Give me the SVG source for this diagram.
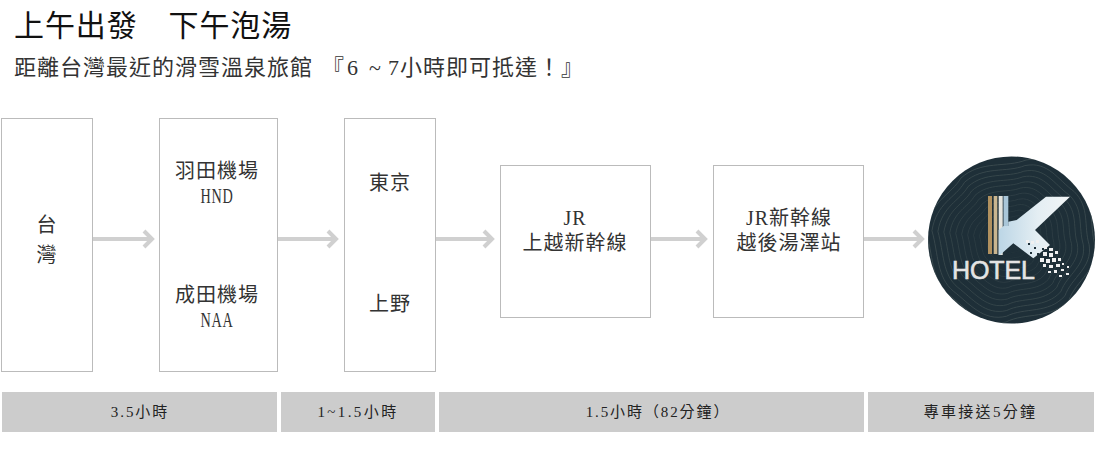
<svg xmlns="http://www.w3.org/2000/svg" width="1096" height="455" viewBox="0 0 1096 455">
<style>
text{font-family:"Liberation Serif","Noto Sans CJK TC",serif;fill:#333;font-size:20px;text-anchor:middle;letter-spacing:1px}
.box{fill:#fff;stroke:#bbb;stroke-width:1}
.bar{fill:#ccc}
.bt{font-size:15px;letter-spacing:1.9px;fill:#222}
.ln{fill:none;stroke:#d0d0d0;stroke-width:4}
.ct{fill:none;stroke:#4c5b5c;stroke-width:.6;vector-effect:non-scaling-stroke}
</style>
<defs>
<path id="w" d="M-85,-10C-80,-40-60,-45-50,-62C-30,-80-5,-72 15,-80C40,-85 50,-65 68,-52C85,-35 78,-15 84,5C88,30 65,40 58,60C40,80 15,72-5,82C-30,88-45,68-62,55C-80,40-78,15-85,-10Z"/>
<clipPath id="c"><circle cx="1011.5" cy="240" r="83.5"/></clipPath>
<linearGradient id="k" x1="0" y1="0" x2="1" y2="0"><stop offset="0" stop-color="#bcd6e6"/><stop offset=".55" stop-color="#e4eef3"/><stop offset="1" stop-color="#f2f5f6"/></linearGradient>
</defs>
<rect width="1096" height="455" fill="#fff"/>
<g id="title">
<text x="14" y="36" style="text-anchor:start;font-size:30px;letter-spacing:.9px;fill:#111">上午出發　下午泡湯</text>
<text x="14" y="75" style="text-anchor:start;font-size:22px;letter-spacing:1px">距離台灣最近的滑雪溫泉旅館<tspan x="322">『</tspan><tspan x="347">6</tspan><tspan x="369">~</tspan><tspan x="388">7小時即可抵達！』</tspan></text>
</g>
<g id="connectors">
<path class="ln" d="M93,239H151M144,231l8,8-8,8"/>
<path class="ln" d="M278,239H335M328,231l8,8-8,8"/>
<path class="ln" d="M436,239H491M484,231l8,8-8,8"/>
<path class="ln" d="M651,239H704M697,231l8,8-8,8"/>
<path class="ln" d="M864,239H921M914,231l8,8-8,8"/>
</g>
<g id="node-taiwan"><rect class="box" x="1.5" y="118.5" width="91" height="253"/><text x="47" y="232">台</text><text x="47" y="262">灣</text></g>
<g id="node-airports"><rect class="box" x="159.5" y="118.5" width="118" height="253"/><text x="217" y="178">羽田機場</text><text x="217" y="203" textLength="33" lengthAdjust="spacingAndGlyphs">HND</text><text x="217" y="302">成田機場</text><text x="217" y="327" textLength="33" lengthAdjust="spacingAndGlyphs">NAA</text></g>
<g id="node-tokyo"><rect class="box" x="344.5" y="118.5" width="91" height="253"/><text x="390" y="190">東京</text><text x="390" y="311">上野</text></g>
<g id="node-jr"><rect class="box" x="500.5" y="165.5" width="150" height="152"/><text x="575" y="225">JR</text><text x="575" y="250">上越新幹線</text></g>
<g id="node-station"><rect class="box" x="713.5" y="165.5" width="150" height="152"/><text x="789" y="225">JR新幹線</text><text x="789" y="250">越後湯澤站</text></g>
<g id="node-hotel">
<circle cx="1011.5" cy="240" r="83.5" fill="#1e2f38"/>
<g clip-path="url(#c)">
<use href="#w" class="ct" transform="translate(1011 240) scale(1)"/>
<use href="#w" class="ct" transform="translate(1011 240) scale(.93)"/>
<use href="#w" class="ct" transform="translate(1011 240) scale(.86)"/>
<use href="#w" class="ct" transform="translate(1011 240) scale(.79)"/>
<use href="#w" class="ct" transform="translate(1011 240) scale(.72)"/>
<use href="#w" class="ct" transform="translate(1011 240) scale(.65)"/>
<use href="#w" class="ct" transform="translate(1011 240) scale(.58)"/>
<use href="#w" class="ct" transform="translate(1011 240) scale(.51)"/>
<use href="#w" class="ct" transform="translate(1011 240) scale(.44)"/>
<use href="#w" class="ct" transform="translate(1011 240) scale(.37)"/>
<use href="#w" class="ct" transform="translate(1011 240) scale(.3)"/>
<use href="#w" class="ct" transform="translate(1011 240) scale(.23)"/>
<use href="#w" class="ct" transform="translate(1011 240) scale(.16)"/>
</g>
<rect x="988" y="196" width="4" height="58" fill="#b1915f"/>
<rect x="993.7" y="196" width="3.6" height="58" fill="#c9b58f"/>
<rect x="998.7" y="196" width="4" height="59" fill="#e4e4de"/>
<rect x="1003.5" y="196" width="4.8" height="30" fill="#a9c6d8"/>
<path d="M1003.5,226H1008.3V221.7L1016.7,220L1046,196.7H1070L1035,230L1050,245L1033.3,258.3L1013.3,243.3L1000,255H998.7V230Z" fill="url(#k)"/>
<g fill="#1e2f38">
<rect x="1028" y="243" width="2" height="2"/><rect x="1034" y="247" width="2" height="2"/><rect x="1030" y="252" width="2" height="2"/><rect x="1037" y="253" width="2" height="2"/><rect x="1042" y="248" width="2" height="2"/>
</g>
<g fill="#f0f0f0">
<rect x="1026" y="240" width="3" height="3"/><rect x="1031" y="241" width="3" height="3"/><rect x="1036" y="240" width="3" height="3"/>
<rect x="1044" y="246" width="3" height="3"/><rect x="1049" y="248" width="4" height="3"/><rect x="1043" y="252" width="4" height="4"/>
<rect x="1049" y="253" width="4" height="4"/><rect x="1055" y="251" width="3" height="3"/><rect x="1040" y="258" width="4" height="4"/>
<rect x="1046" y="259" width="4" height="4"/><rect x="1052" y="258" width="4" height="4"/><rect x="1058" y="258" width="3" height="3"/>
<rect x="1043" y="264" width="3" height="3"/><rect x="1049" y="265" width="4" height="3"/><rect x="1056" y="264" width="4" height="3"/>
<rect x="1062" y="263" width="2" height="2"/><rect x="1048" y="271" width="3" height="2"/><rect x="1054" y="270" width="3" height="3"/>
<rect x="1061" y="269" width="3" height="2"/><rect x="1067" y="266" width="2" height="2"/><rect x="1059" y="275" width="3" height="2"/><rect x="1066" y="273" width="3" height="2"/>
</g>
<text x="993.5" y="279" textLength="83" lengthAdjust="spacing" style="font-family:'Liberation Sans',sans-serif;font-size:25px;letter-spacing:0;fill:#e4e4e4;stroke:#e4e4e4;stroke-width:.6">HOTEL</text>
</g>
<g id="times">
<rect class="bar" x="2" y="392" width="275" height="40"/><text class="bt" x="140" y="417">3.5小時</text>
<rect class="bar" x="281" y="392" width="154" height="40"/><text class="bt" x="358" y="417" style="letter-spacing:2.4px">1~1.5小時</text>
<rect class="bar" x="439" y="392" width="425" height="40"/><text class="bt" x="658" y="417">1.5小時（82分鐘）</text>
<rect class="bar" x="868" y="392" width="226" height="40"/><text class="bt" x="980.5" y="417" style="letter-spacing:2.3px">專車接送5分鐘</text>
</g>
</svg>
